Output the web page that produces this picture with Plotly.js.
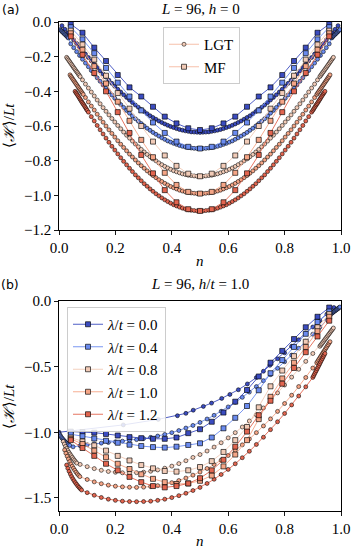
<!DOCTYPE html>
<html><head><meta charset="utf-8">
<script src="https://cdn.plot.ly/plotly-3.0.1.min.js"></script>
<style>html,body{margin:0;padding:0;background:#fff}#plot{width:351px;height:548px}</style>
</head><body><div id="plot"></div>
<script>
const lambdas = ['0.0','0.4','0.8','1.0','1.2'];
const colors = ['#3b4cc0','#6a8bef','#f2cbb7','#f5a586','#e2654f'];

// ---------- top panel (h = 0) ----------
const nTop = [0.0104,0.0208,0.0313,0.0417,0.0521,0.0625,0.0729,0.0833,0.0938,0.1042,0.1146,0.125,0.1354,0.1458,0.1563,0.1667,0.1771,0.1875,0.1979,0.2083,0.2188,0.2292,0.2396,0.25,0.2604,0.2708,0.2813,0.2917,0.3021,0.3125,0.3229,0.3333,0.3438,0.3542,0.3646,0.375,0.3854,0.3958,0.4063,0.4167,0.4271,0.4375,0.4479,0.4583,0.4688,0.4792,0.4896,0.5,0.5104,0.5208,0.5313,0.5417,0.5521,0.5625,0.5729,0.5833,0.5938,0.6042,0.6146,0.625,0.6354,0.6458,0.6563,0.6667,0.6771,0.6875,0.6979,0.7083,0.7188,0.7292,0.7396,0.75,0.7604,0.7708,0.7813,0.7917,0.8021,0.8125,0.8229,0.8333,0.8438,0.8542,0.8646,0.875,0.8854,0.8958,0.9063,0.9167,0.9271,0.9375,0.9479,0.9583,0.9688,0.9792,0.9896];

const lgtTop00 = [-0.021,-0.042,-0.062,-0.083,-0.104,-0.124,-0.145,-0.165,-0.185,-0.205,-0.224,-0.244,-0.263,-0.282,-0.300,-0.318,-0.336,-0.354,-0.371,-0.388,-0.404,-0.420,-0.435,-0.450,-0.465,-0.479,-0.492,-0.505,-0.517,-0.529,-0.541,-0.551,-0.561,-0.571,-0.580,-0.588,-0.596,-0.603,-0.609,-0.615,-0.620,-0.624,-0.628,-0.631,-0.634,-0.635,-0.636,-0.637,
-0.636,-0.635,-0.634,-0.631,-0.628,-0.624,-0.620,-0.615,-0.609,-0.603,-0.596,-0.588,-0.580,-0.571,-0.561,-0.551,-0.541,-0.529,-0.517,-0.505,-0.492,-0.479,-0.465,-0.450,-0.435,-0.420,-0.404,-0.388,-0.371,-0.354,-0.336,-0.318,-0.300,-0.282,-0.263,-0.244,-0.224,-0.205,-0.185,-0.165,-0.145,-0.124,-0.104,-0.083,-0.062,-0.042,-0.021];
const lgtTop04 = [null,null,null,-0.126,-0.148,-0.171,-0.193,-0.215,-0.237,-0.258,-0.280,-0.301,-0.322,-0.342,-0.363,-0.383,-0.402,-0.421,-0.440,-0.458,-0.476,-0.493,-0.510,-0.526,-0.542,-0.558,-0.572,-0.586,-0.600,-0.613,-0.625,-0.637,-0.648,-0.658,-0.668,-0.677,-0.686,-0.693,-0.700,-0.706,-0.712,-0.717,-0.721,-0.724,-0.727,-0.729,-0.730,-0.730,
-0.730,-0.729,-0.727,-0.724,-0.721,-0.717,-0.712,-0.706,-0.700,-0.693,-0.686,-0.677,-0.668,-0.658,-0.648,-0.637,-0.625,-0.613,-0.600,-0.586,-0.572,-0.558,-0.542,-0.526,-0.510,-0.493,-0.476,-0.458,-0.440,-0.421,-0.402,-0.383,-0.363,-0.342,-0.322,-0.301,-0.280,-0.258,-0.237,-0.215,-0.193,-0.171,-0.148,-0.126,null,null,null];
const lgtTop08 = [null,null,null,null,null,null,null,-0.334,-0.358,-0.381,-0.404,-0.427,-0.450,-0.472,-0.494,-0.515,-0.536,-0.557,-0.577,-0.597,-0.616,-0.635,-0.653,-0.670,-0.687,-0.704,-0.720,-0.735,-0.750,-0.764,-0.777,-0.790,-0.801,-0.813,-0.823,-0.833,-0.842,-0.850,-0.858,-0.864,-0.870,-0.876,-0.880,-0.884,-0.886,-0.888,-0.890,-0.890,
-0.890,-0.888,-0.886,-0.884,-0.880,-0.876,-0.870,-0.864,-0.858,-0.850,-0.842,-0.833,-0.823,-0.813,-0.801,-0.790,-0.777,-0.764,-0.750,-0.735,-0.720,-0.704,-0.687,-0.670,-0.653,-0.635,-0.616,-0.597,-0.577,-0.557,-0.536,-0.515,-0.494,-0.472,-0.450,-0.427,-0.404,-0.381,-0.358,-0.334,null,null,null,null,null,null,null];
const lgtTop10 = [null,null,null,null,null,null,null,null,-0.436,-0.461,-0.485,-0.508,-0.532,-0.555,-0.578,-0.600,-0.622,-0.643,-0.664,-0.685,-0.705,-0.724,-0.743,-0.762,-0.779,-0.796,-0.813,-0.829,-0.844,-0.859,-0.872,-0.886,-0.898,-0.910,-0.920,-0.931,-0.940,-0.949,-0.956,-0.963,-0.970,-0.975,-0.980,-0.983,-0.986,-0.988,-0.990,-0.990,
-0.990,-0.988,-0.986,-0.983,-0.980,-0.975,-0.970,-0.963,-0.956,-0.949,-0.940,-0.931,-0.920,-0.910,-0.898,-0.886,-0.872,-0.859,-0.844,-0.829,-0.813,-0.796,-0.779,-0.762,-0.743,-0.724,-0.705,-0.685,-0.664,-0.643,-0.622,-0.600,-0.578,-0.555,-0.532,-0.508,-0.485,-0.461,-0.436,null,null,null,null,null,null,null,null];
const lgtTop12 = [null,null,null,null,null,null,null,null,null,-0.520,-0.546,-0.571,-0.597,-0.622,-0.646,-0.670,-0.694,-0.717,-0.739,-0.761,-0.783,-0.804,-0.824,-0.844,-0.863,-0.882,-0.899,-0.916,-0.933,-0.948,-0.963,-0.977,-0.991,-1.003,-1.015,-1.026,-1.036,-1.045,-1.054,-1.061,-1.068,-1.074,-1.079,-1.083,-1.086,-1.088,-1.090,-1.090,
-1.090,-1.088,-1.086,-1.083,-1.079,-1.074,-1.068,-1.061,-1.054,-1.045,-1.036,-1.026,-1.015,-1.003,-0.991,-0.977,-0.963,-0.948,-0.933,-0.916,-0.899,-0.882,-0.863,-0.844,-0.824,-0.804,-0.783,-0.761,-0.739,-0.717,-0.694,-0.670,-0.646,-0.622,-0.597,-0.571,-0.546,-0.520,null,null,null,null,null,null,null,null,null];

// dense clusters of LGT points near the band edges (top panel)
const clTopX04L = [0.004,0.0065,0.009,0.0115,0.014,0.0165,0.019,0.0215,0.024,0.0265,0.029,0.031,0.033];
const clTopY04L = [-0.044,-0.048,-0.052,-0.056,-0.060,-0.064,-0.068,-0.072,-0.076,-0.080,-0.084,-0.088,-0.092];
const clTopX04R = [0.967,0.969,0.971,0.9735,0.976,0.9785,0.981,0.9835,0.986,0.9885,0.991,0.9935,0.996];
const clTopY04R = [-0.092,-0.088,-0.084,-0.080,-0.076,-0.072,-0.068,-0.064,-0.060,-0.056,-0.052,-0.048,-0.044];
const clTopX08L = [0.027,0.0304,0.0339,0.0373,0.0407,0.0441,0.0476,0.051,0.0544,0.0579,0.0613,0.0647,0.0681,0.0716,0.075];
const clTopY08L = [-0.204,-0.212,-0.220,-0.228,-0.236,-0.244,-0.252,-0.260,-0.268,-0.276,-0.284,-0.291,-0.299,-0.307,-0.315];
const clTopX08R = [0.925,0.9284,0.9319,0.9353,0.9387,0.9421,0.9456,0.949,0.9524,0.9559,0.9593,0.9627,0.9661,0.9696,0.973];
const clTopY08R = [-0.315,-0.307,-0.299,-0.291,-0.284,-0.276,-0.268,-0.260,-0.252,-0.244,-0.236,-0.228,-0.220,-0.212,-0.204];
const clTopX10L = [0.039,0.0424,0.0457,0.0491,0.0524,0.0558,0.0591,0.0625,0.0659,0.0692,0.0726,0.0759,0.0793,0.0826,0.086];
const clTopY10L = [-0.305,-0.314,-0.322,-0.330,-0.338,-0.346,-0.354,-0.362,-0.370,-0.378,-0.386,-0.394,-0.402,-0.410,-0.418];
const clTopX10R = [0.914,0.9174,0.9207,0.9241,0.9274,0.9308,0.9341,0.9375,0.9409,0.9442,0.9476,0.9509,0.9543,0.9576,0.961];
const clTopY10R = [-0.418,-0.410,-0.402,-0.394,-0.386,-0.378,-0.370,-0.362,-0.354,-0.346,-0.338,-0.330,-0.322,-0.314,-0.305];
const clTopX12L = [0.057,0.0601,0.0631,0.0661,0.0693,0.0724,0.0754,0.0785,0.0816,0.0846,0.0877,0.0907,0.0939,0.0969,0.10];
const clTopY12L = [-0.400,-0.408,-0.415,-0.423,-0.431,-0.439,-0.447,-0.455,-0.463,-0.471,-0.478,-0.486,-0.494,-0.502,-0.510];
const clTopX12R = [0.90,0.9031,0.9061,0.9093,0.9123,0.9154,0.9184,0.9215,0.9246,0.9276,0.9307,0.9339,0.9369,0.9399,0.943];
const clTopY12R = [-0.510,-0.502,-0.494,-0.486,-0.478,-0.471,-0.463,-0.455,-0.447,-0.439,-0.431,-0.423,-0.415,-0.408,-0.400];

const nMF = [0.0417,0.0833,0.125,0.1667,0.2083,0.25,0.2917,0.3333,0.375,0.4167,0.4583,0.5,0.5417,0.5833,0.625,0.6667,0.7083,0.75,0.7917,0.8333,0.875,0.9167,0.9583];
const mfTop00 = [-0.012,-0.062,-0.148,-0.225,-0.306,-0.377,-0.43,-0.489,-0.546,-0.585,-0.613,-0.623,-0.613,-0.585,-0.546,-0.489,-0.43,-0.377,-0.306,-0.225,-0.148,-0.062,-0.012];
const mfTop04 = [-0.03,-0.10,-0.18,-0.265,-0.35,-0.43,-0.51,-0.58,-0.64,-0.69,-0.72,-0.73,-0.72,-0.69,-0.64,-0.58,-0.51,-0.43,-0.35,-0.265,-0.18,-0.10,-0.03];
const mfTop08 = [-0.05,-0.13,-0.217,-0.31,-0.41,-0.50,-0.60,-0.69,-0.77,-0.83,-0.875,-0.89,-0.875,-0.83,-0.77,-0.69,-0.60,-0.50,-0.41,-0.31,-0.217,-0.13,-0.05];
const mfTop10 = [-0.065,-0.16,-0.255,-0.355,-0.46,-0.57,-0.68,-0.78,-0.87,-0.94,-0.98,-0.99,-0.98,-0.94,-0.87,-0.78,-0.68,-0.57,-0.46,-0.355,-0.255,-0.16,-0.065];
const mfTop12 = [-0.083,-0.189,-0.294,-0.40,-0.52,-0.64,-0.767,-0.873,-0.97,-1.04,-1.08,-1.09,-1.08,-1.04,-0.97,-0.873,-0.767,-0.64,-0.52,-0.40,-0.294,-0.189,-0.083];

// ---------- bottom panel (h/t = 1.0) ----------
const nBotL00 = [0.0,0.228,0.352,0.42,0.45,0.476,0.512,0.541,0.577,0.606,0.636,0.668,0.70,0.725,0.748,0.775,0.80,0.825,0.85,0.875,0.90,0.925,0.95,0.975];
const lgtBot00 = [-1.0,-0.944,-0.902,-0.874,-0.856,-0.832,-0.803,-0.778,-0.742,-0.712,-0.676,-0.632,-0.583,-0.535,-0.49,-0.44,-0.395,-0.345,-0.295,-0.245,-0.198,-0.15,-0.10,-0.05];
const nBot = [0.05,0.075,0.1,0.125,0.15,0.175,0.2,0.225,0.25,0.275,0.3,0.325,0.35,0.375,0.4,0.425,0.45,0.475,0.5,0.525,0.55,0.575,0.6,0.625,0.65,0.675,0.7,0.725,0.75,0.775,0.8,0.825,0.85,0.875,0.9,0.925,0.95];
const lgtBot04 = [-1.111,-1.102,-1.095,-1.089,-1.083,-1.078,-1.073,-1.068,-1.062,-1.056,-1.048,-1.039,-1.029,-1.017,-1.003,-0.987,-0.968,-0.948,-0.925,-0.899,-0.871,-0.840,-0.807,-0.772,-0.734,-0.694,-0.652,-0.607,-0.561,-0.513,-0.463,-0.412,-0.360,-0.307,-0.253,-0.199,-0.144];
const lgtBot08 = [null,-1.245,-1.262,-1.277,-1.29,-1.299,-1.305,-1.309,-1.31,-1.308,-1.304,-1.297,-1.287,-1.274,-1.258,-1.239,-1.217,-1.192,-1.17,-1.143,-1.113,-1.08,-1.043,-1.003,-0.96,-0.914,-0.866,-0.815,-0.76,-0.70,-0.64,-0.58,-0.52,-0.46,-0.40,null,null];
const lgtBot10 = [null,null,-1.36,-1.378,-1.392,-1.403,-1.411,-1.416,-1.419,-1.42,-1.418,-1.414,-1.407,-1.397,-1.384,-1.368,-1.349,-1.327,-1.303,-1.276,-1.246,-1.213,-1.177,-1.138,-1.096,-1.051,-1.003,-0.952,-0.898,-0.841,-0.781,-0.718,-0.652,-0.583,-0.511,null,null];
const lgtBot12 = [null,null,-1.46,-1.48,-1.497,-1.51,-1.519,-1.525,-1.528,-1.529,-1.528,-1.525,-1.519,-1.51,-1.498,-1.483,-1.465,-1.444,-1.42,-1.39,-1.358,-1.322,-1.283,-1.24,-1.194,-1.145,-1.093,-1.038,-0.98,-0.92,-0.857,-0.792,-0.724,-0.654,null,null,null];

const clBotX04L = [0.0,0.003,0.006,0.009,0.012,0.015,0.018,0.021,0.024,0.027,0.03,0.034,0.038];
const clBotY04L = [-1.01,-1.02,-1.03,-1.04,-1.048,-1.056,-1.063,-1.07,-1.077,-1.083,-1.089,-1.095,-1.10];
const clBotX04R = [0.967,0.969,0.971,0.9735,0.976,0.9785,0.981,0.9835,0.986,0.9885,0.991,0.9935,0.996];
const clBotY04R = [-0.095,-0.091,-0.087,-0.083,-0.079,-0.075,-0.071,-0.067,-0.063,-0.059,-0.055,-0.050,-0.046];
const clBotX08L = [0.015,0.019,0.023,0.027,0.031,0.035,0.039,0.043,0.047,0.051,0.055,0.059,0.063];
const clBotY08L = [-1.07,-1.09,-1.108,-1.124,-1.139,-1.153,-1.166,-1.179,-1.191,-1.203,-1.214,-1.225,-1.235];
const clBotX08R = [0.925,0.9284,0.9319,0.9353,0.9387,0.9421,0.9456,0.949,0.9524,0.9559,0.9593,0.9627,0.9661,0.9696,0.973];
const clBotY08R = [-0.345,-0.335,-0.326,-0.316,-0.306,-0.296,-0.286,-0.276,-0.266,-0.256,-0.246,-0.236,-0.226,-0.216,-0.206];
const clBotX10L = [0.02,0.0245,0.029,0.0335,0.038,0.0425,0.047,0.0515,0.056,0.0605,0.065,0.0695,0.074];
const clBotY10L = [-1.135,-1.16,-1.183,-1.204,-1.224,-1.242,-1.259,-1.275,-1.29,-1.304,-1.317,-1.328,-1.338];
const clBotX10R = [0.914,0.9174,0.9207,0.9241,0.9274,0.9308,0.9341,0.9375,0.9409,0.9442,0.9476,0.9509,0.9543,0.9576,0.961];
const clBotY10R = [-0.47,-0.459,-0.447,-0.436,-0.424,-0.413,-0.401,-0.39,-0.379,-0.367,-0.356,-0.344,-0.333,-0.321,-0.31];
const clBotX12L = [0.027,0.0314,0.0358,0.0403,0.0447,0.0491,0.0535,0.058,0.0624,0.0668,0.0712,0.0756,0.08];
const clBotY12L = [-1.25,-1.275,-1.298,-1.319,-1.338,-1.355,-1.37,-1.384,-1.397,-1.409,-1.42,-1.43,-1.44];
const clBotX12R = [0.90,0.9031,0.9061,0.9093,0.9123,0.9154,0.9184,0.9215,0.9246,0.9276,0.9307,0.9339,0.9369,0.9399,0.943];
const clBotY12R = [-0.582,-0.569,-0.556,-0.543,-0.530,-0.517,-0.504,-0.491,-0.478,-0.465,-0.452,-0.439,-0.426,-0.413,-0.400];

const mfBot00 = [-0.995,-0.998,-1.003,-1.013,-1.025,-1.037,-1.045,-1.05,-1.05,-1.04,-1.007,-0.977,-0.92,-0.85,-0.767,-0.678,-0.575,-0.47,-0.38,-0.29,-0.2,-0.12,-0.05];
const mfBot04 = [-1.015,-1.03,-1.048,-1.065,-1.08,-1.095,-1.105,-1.113,-1.117,-1.11,-1.097,-1.084,-1.04,-0.97,-0.89,-0.80,-0.68,-0.55,-0.45,-0.35,-0.25,-0.16,-0.08];
const mfBot08 = [-1.04,-1.07,-1.10,-1.14,-1.18,-1.215,-1.25,-1.275,-1.295,-1.30,-1.29,-1.265,-1.22,-1.15,-1.06,-0.96,-0.81,-0.65,-0.53,-0.42,-0.31,-0.2,-0.1];
const mfBot10 = [-1.05,-1.09,-1.14,-1.19,-1.24,-1.28,-1.32,-1.355,-1.38,-1.395,-1.39,-1.37,-1.33,-1.26,-1.17,-1.06,-0.9,-0.73,-0.59,-0.47,-0.35,-0.23,-0.12];
const mfBot12 = [-1.06,-1.12,-1.18,-1.24,-1.29,-1.34,-1.38,-1.41,-1.42,-1.41,-1.39,-1.35,-1.29,-1.21,-1.11,-0.995,-0.87,-0.76,-0.63,-0.51,-0.39,-0.27,-0.15];

const xTicks = [0,0.2,0.4,0.6,0.8,1.0];
const xTickText = ['0.0','0.2','0.4','0.6','0.8','1.0'];
const yTicksTop = [0,-0.2,-0.4,-0.6,-0.8,-1.0,-1.2];
const yTickTextTop = ['0.0','\u22120.2','\u22120.4','\u22120.6','\u22120.8','\u22121.0','\u22121.2'];
const yTicksBot = [0,-0.5,-1.0,-1.5];
const yTickTextBot = ['0.0','\u22120.5','\u22121.0','\u22121.5'];

// ---------- build traces ----------
function keep(xs, ys){const X=[],Y=[];for(let i=0;i<xs.length;i++){if(ys[i]!==null){X.push(xs[i]);Y.push(ys[i]);}}return [X,Y];}
function lgt(xs, ys, c, xa, ya){
  return {type:'scatter', mode:'lines+markers', x:xs, y:ys, xaxis:xa, yaxis:ya, showlegend:false,
    line:{color:c, width:0.9}, marker:{symbol:'circle', size:4, color:c, line:{color:'#000', width:0.55}}, hoverinfo:'skip'};
}
function mf(xs, ys, c, xa, ya, name, show){
  return {type:'scatter', mode:'lines+markers', x:xs, y:ys, xaxis:xa, yaxis:ya, name:name, showlegend:show, legend:'legend',
    line:{color:c, width:0.9}, marker:{symbol:'square', size:5, color:c, line:{color:'#000', width:0.65}}, hoverinfo:'skip'};
}
const E = [[],[]];
const traces = [];
const topL = [lgtTop00,lgtTop04,lgtTop08,lgtTop10,lgtTop12];
const topClL = [E,[clTopX04L,clTopY04L],[clTopX08L,clTopY08L],[clTopX10L,clTopY10L],[clTopX12L,clTopY12L]];
const topClR = [E,[clTopX04R,clTopY04R],[clTopX08R,clTopY08R],[clTopX10R,clTopY10R],[clTopX12R,clTopY12R]];
const topMF = [mfTop00,mfTop04,mfTop08,mfTop10,mfTop12];
const botMF = [mfBot00,mfBot04,mfBot08,mfBot10,mfBot12];
const botClL = [E,[clBotX04L,clBotY04L],[clBotX08L,clBotY08L],[clBotX10L,clBotY10L],[clBotX12L,clBotY12L]];
const botClR = [E,[clBotX04R,clBotY04R],[clBotX08R,clBotY08R],[clBotX10R,clBotY10R],[clBotX12R,clBotY12R]];
const botL = [null,lgtBot04,lgtBot08,lgtBot10,lgtBot12];

for(let i=0;i<5;i++){
  const [gx,gy] = keep(nTop, topL[i]);
  traces.push(lgt(topClL[i][0].concat(gx, topClR[i][0]), topClL[i][1].concat(gy, topClR[i][1]), colors[i], 'x2','y2'));
}
for(let i=0;i<5;i++) traces.push(mf(nMF, topMF[i], colors[i], 'x2','y2', '', false));
traces.push(lgt(nBotL00, lgtBot00, colors[0], 'x','y'));
for(let i=1;i<5;i++){
  const [gx,gy] = keep(nBot, botL[i]);
  traces.push(lgt(botClL[i][0].concat(gx, botClR[i][0]), botClL[i][1].concat(gy, botClR[i][1]), colors[i], 'x','y'));
}
for(let i=0;i<5;i++) traces.push(mf(nMF, botMF[i], colors[i], 'x','y', '<i>\u03bb</i>/<i>t</i> = '+lambdas[i], true));
// legend proxies for the top panel
traces.push({type:'scatter', mode:'lines+markers', x:[null], y:[null], xaxis:'x2', yaxis:'y2', name:'LGT', legend:'legend2',
  line:{color:'#f5b9a0', width:0.9}, marker:{symbol:'circle', size:4, color:'#f2cbb7', line:{color:'#000', width:0.55}}});
traces.push({type:'scatter', mode:'lines+markers', x:[null], y:[null], xaxis:'x2', yaxis:'y2', name:'MF', legend:'legend2',
  line:{color:'#f5b9a0', width:0.9}, marker:{symbol:'square', size:5, color:'#f2cbb7', line:{color:'#000', width:0.65}}});

const serif = 'Liberation Serif, DejaVu Serif, serif';
const axBase = {showline:true, mirror:true, linecolor:'#000', linewidth:1.2, ticks:'outside', ticklen:3.5, tickwidth:0.9, tickcolor:'#000',
  showgrid:false, zeroline:false, tickfont:{family:serif, size:15, color:'#000'}, fixedrange:true};
const H = 489, B = 511;
function py(p){return (B-p)/H;}
function px(p){return (p-59)/282;}
const ann = [
  {text:'(a)', x:px(10), y:py(9), font:{family:'DejaVu Sans', size:12.5}},
  {text:'<i>L</i> = 96, <i>h</i> = 0', x:0.5, y:py(9), font:{family:serif, size:15}},
  {text:'(b)', x:px(10), y:py(284), font:{family:'DejaVu Sans', size:12.5}},
  {text:'<i>L</i> = 96, <i>h</i>/<i>t</i> = 1.0', x:0.5, y:py(284), font:{family:serif, size:15}},
  {text:'\u27e8<i>\u210b</i>\u27e9/<i>Lt</i>', x:px(9), y:py(126), textangle:-90, font:{family:serif, size:15}},
  {text:'\u27e8<i>\u210b</i>\u27e9/<i>Lt</i>', x:px(9), y:py(407), textangle:-90, font:{family:serif, size:15}},
  {text:'<i>n</i>', x:0.5, y:py(261), font:{family:serif, size:15}},
  {text:'<i>n</i>', x:0.5, y:py(541), font:{family:serif, size:15}}
].map(a=>Object.assign({xref:'paper', yref:'paper', showarrow:false, xanchor:'center', yanchor:'middle'}, a, {font:Object.assign({color:'#000'}, a.font)}));

const layout = {
  width:351, height:548, margin:{l:59, r:10, t:22, b:37}, paper_bgcolor:'#fff', plot_bgcolor:'#fff',
  xaxis: Object.assign({}, axBase, {domain:[0,1], anchor:'y', range:[0,1], tickvals:xTicks, ticktext:xTickText}),
  yaxis: Object.assign({}, axBase, {domain:[0, py(301)], anchor:'x', range:[-1.6,0], tickvals:yTicksBot, ticktext:yTickTextBot}),
  xaxis2: Object.assign({}, axBase, {domain:[0,1], anchor:'y2', range:[0,1], tickvals:xTicks, ticktext:xTickText}),
  yaxis2: Object.assign({}, axBase, {domain:[py(230), 1], anchor:'x2', range:[-1.2,0], tickvals:yTicksTop, ticktext:yTickTextTop}),
  legend: {x:px(67), y:py(307), xanchor:'left', yanchor:'top', bgcolor:'rgba(255,255,255,0.85)', bordercolor:'#cccccc', borderwidth:1,
    font:{family:serif, size:15, color:'#000'}, tracegroupgap:0, itemwidth:30},
  legend2: {x:px(163), y:py(27), xanchor:'left', yanchor:'top', bgcolor:'rgba(255,255,255,0.85)', bordercolor:'#cccccc', borderwidth:1,
    font:{family:serif, size:15, color:'#000'}, tracegroupgap:0, itemwidth:30},
  annotations: ann
};
Plotly.newPlot('plot', traces, layout, {displayModeBar:false, staticPlot:true});
</script></body></html>
